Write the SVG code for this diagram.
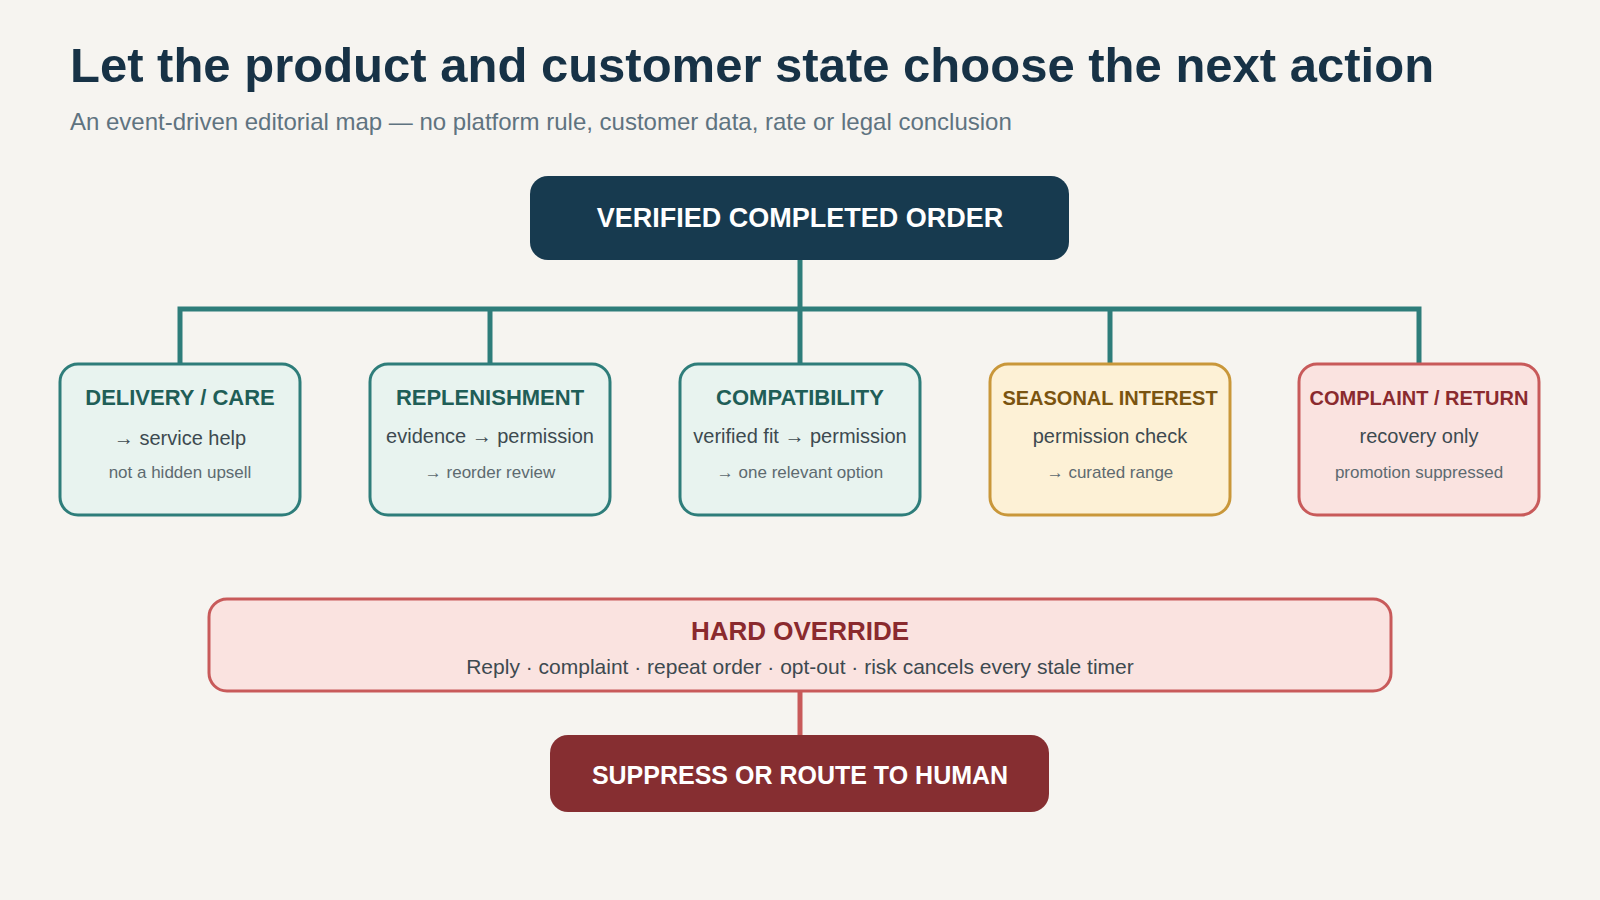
<svg xmlns="http://www.w3.org/2000/svg" width="1600" height="900" viewBox="0 0 1600 900">
<style>
text{font-family:"Liberation Sans",Arial,sans-serif;text-anchor:middle}
.t{font-weight:bold;font-size:22px}
.l2{font-size:20px;fill:#3d4a50}
.l3{font-size:17px;fill:#5d6a70}
.teal rect{fill:#e8f3ef;stroke:#2e7d7a;stroke-width:3}
.teal .t{fill:#1f5e57}
.yel rect{fill:#fdf1d6;stroke:#c9973a;stroke-width:3}
.yel .t{fill:#7a5410;font-size:20px}
.red rect{fill:#fae3e0;stroke:#c85a5a;stroke-width:3}
.red .t{fill:#8a2a2e;font-size:20px}
</style>
<rect width="1600" height="900" fill="#f6f4f0"/>
<text x="70" y="82" style="text-anchor:start;font-weight:bold;font-size:49px;fill:#173246">Let the product and customer state choose the next action</text>
<text x="70" y="130" style="text-anchor:start;font-size:24px;fill:#5f7380">An event-driven editorial map — no platform rule, customer data, rate or legal conclusion</text>
<g id="connectors" fill="none" stroke-width="5">
<path d="M800 260V309M180 364V309H1419V364M490 309V364M800 309V364M1110 309V364" stroke="#2e7d7a"/>
<path d="M800 691V735" stroke="#c85a5a"/>
</g>
<g id="root"><rect x="530" y="176" width="539" height="84" rx="18" fill="#173a4f"/>
<text x="800" y="227" style="font-weight:bold;font-size:27px;fill:#fff">VERIFIED COMPLETED ORDER</text></g>
<g id="delivery" class="teal"><rect x="60" y="364" width="240" height="151" rx="18"/>
<text class="t" x="180" y="405">DELIVERY / CARE</text><text class="l2" x="180" y="445">→ service help</text><text class="l3" x="180" y="478">not a hidden upsell</text></g>
<g id="replenishment" class="teal"><rect x="370" y="364" width="240" height="151" rx="18"/>
<text class="t" x="490" y="405">REPLENISHMENT</text><text class="l2" x="490" y="443">evidence → permission</text><text class="l3" x="490" y="478">→ reorder review</text></g>
<g id="compatibility" class="teal"><rect x="680" y="364" width="240" height="151" rx="18"/>
<text class="t" x="800" y="405">COMPATIBILITY</text><text class="l2" x="800" y="443">verified fit → permission</text><text class="l3" x="800" y="478">→ one relevant option</text></g>
<g id="seasonal" class="yel"><rect x="990" y="364" width="240" height="151" rx="18"/>
<text class="t" x="1110" y="405">SEASONAL INTEREST</text><text class="l2" x="1110" y="443">permission check</text><text class="l3" x="1110" y="478">→ curated range</text></g>
<g id="complaint" class="red"><rect x="1299" y="364" width="240" height="151" rx="18"/>
<text class="t" x="1419" y="405">COMPLAINT / RETURN</text><text class="l2" x="1419" y="443">recovery only</text><text class="l3" x="1419" y="478">promotion suppressed</text></g>
<g id="override" class="red"><rect x="209" y="599" width="1182" height="92" rx="18"/>
<text class="t" x="800" y="640" style="font-size:26px">HARD OVERRIDE</text>
<text class="l2" x="800" y="674" style="font-size:21px">Reply · complaint · repeat order · opt-out · risk cancels every stale timer</text></g>
<g id="human"><rect x="550" y="735" width="499" height="77" rx="18" fill="#862e31"/>
<text x="800" y="784" style="font-weight:bold;font-size:25px;fill:#fff">SUPPRESS OR ROUTE TO HUMAN</text></g>
</svg>
